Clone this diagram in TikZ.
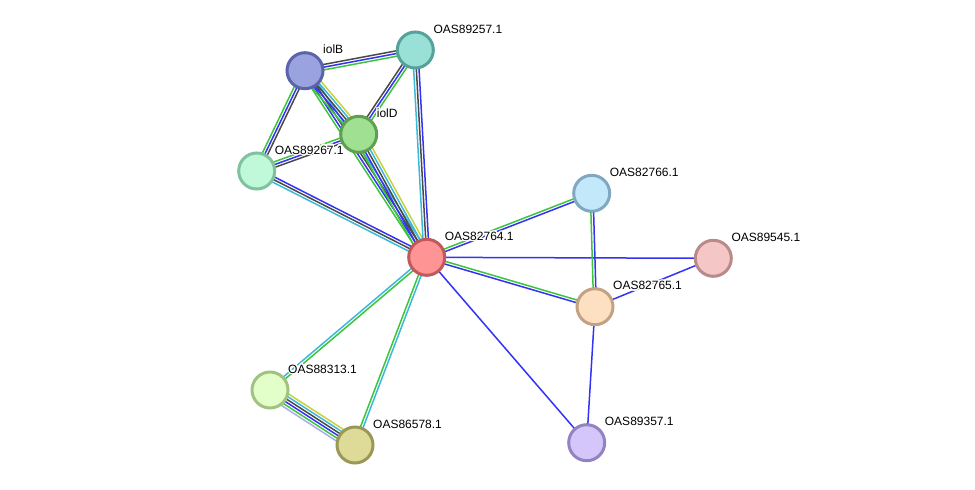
\documentclass[tikz,border=0pt]{standalone}
\usepackage{fontspec}
\setmainfont{Liberation Sans}
\usepackage{contour}
\contourlength{1.3pt}
\usetikzlibrary{calc}
\pgfdeclarelayer{background}
\pgfsetlayers{background,main}
\definecolor{sgreen}{HTML}{3CC43C}
\definecolor{sblue}{HTML}{3333F5}
\definecolor{sblack}{HTML}{4A4A4A}
\definecolor{scyan}{HTML}{3CB8D8}
\definecolor{syellow}{HTML}{C8D23C}
\definecolor{slav}{HTML}{ABABF0}
\tikzset{
  prot/.style={circle, minimum size=36pt, inner sep=0pt, line width=3pt},
  plabel/.style={anchor=base west, inner sep=0pt, font=\fontsize{12}{14}\selectfont}
}
\newcommand\sedge[4]{%
  \foreach \cc [count=\i] in {#4} {%
    \pgfmathsetmacro\off{((#3+1)/2-\i)*2.7}%
    \draw[draw=\cc, line width=1.5pt] ($(#1.center)!\off pt!90:(#2.center)$) -- ($(#2.center)!\off pt!-90:(#1.center)$);
  }%
}
\newcommand\prot[5]{%
  \definecolor{fill#1}{HTML}{#4}%
  \definecolor{border#1}{HTML}{#5}%
  \node[prot, fill=fill#1, draw=border#1] (#1) at (#2) {};
  \node[plabel] (l#1) at ($(#2)+(18,-17)$) {\contour{white}{#3}};
}
\begin{document}
\begin{tikzpicture}[x=1pt,y=-1pt]
\useasboundingbox (0,0) rectangle (975,490);
\prot{iolB}{305,70.7}{iolB}{9AA3E0}{5A64A8}
\prot{p89257}{415.3,50}{OAS89257.1}{99E0D6}{55A29A}
\prot{iolD}{358.7,134.3}{iolD}{A0E092}{5EA052}
\prot{p89267}{256.7,171}{OAS89267.1}{C0F8DA}{7EC29E}
\prot{p82764}{426.7,257.3}{OAS82764.1}{FF9494}{C05A5A}
\prot{p82766}{591.7,193.3}{OAS82766.1}{C2E8FA}{80A8C2}
\prot{p89545}{713.3,258.3}{OAS89545.1}{F5C6C6}{B88A8A}
\prot{p82765}{595,306.7}{OAS82765.1}{FDDFC2}{C2A282}
\prot{p88313}{270,390}{OAS88313.1}{E2FFCA}{A2C282}
\prot{p86578}{355,445}{OAS86578.1}{DEDB98}{9A9856}
\prot{p89357}{586.7,442.7}{OAS89357.1}{D4C6FA}{9282C2}
\begin{pgfonlayer}{background}
\sedge{iolB}{p89257}{3}{sblack,sblue,sgreen}
\sedge{iolB}{p82764}{4}{scyan,sblack,sblue,sgreen}
\sedge{iolB}{iolD}{5}{syellow,scyan,sblack,sblue,sgreen}
\sedge{iolD}{p82764}{5}{syellow,scyan,sblack,sblue,sgreen}
\sedge{iolB}{p89267}{3}{sblack,sblue,sgreen}
\sedge{p89257}{iolD}{3}{sgreen,sblue,sblack}
\sedge{p89257}{p82764}{3}{sblue,sblack,scyan}
\sedge{p89267}{iolD}{3}{sgreen,sblue,sblack}
\sedge{p89267}{p82764}{3}{sblue,sblack,scyan}
\sedge{p82764}{p82766}{2}{sgreen,sblue}
\sedge{p82764}{p89545}{1}{sblue}
\sedge{p82764}{p82765}{2}{sgreen,sblue}
\sedge{p82764}{p89357}{1}{sblue}
\sedge{p82764}{p88313}{2}{sgreen,scyan}
\sedge{p82764}{p86578}{2}{scyan,sgreen}
\sedge{p82766}{p82765}{2}{sblue,sgreen}
\sedge{p89545}{p82765}{1}{sblue}
\sedge{p82765}{p89357}{1}{sblue}
\sedge{p88313}{p86578}{6}{syellow,scyan,sblack,sblue,sgreen,slav}
\end{pgfonlayer}
\end{tikzpicture}
\end{document}
